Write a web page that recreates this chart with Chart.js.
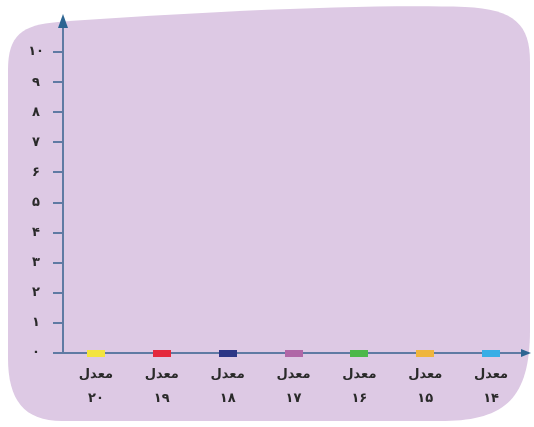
<!DOCTYPE html>
<html>
<head>
<meta charset="utf-8">
<script src="https://cdn.jsdelivr.net/npm/chart.js@4"></script>
<style>
  html, body { margin: 0; padding: 0; background: #ffffff; }
  #wrap { width: 534px; height: 427px; }
</style>
</head>
<body>
<div id="wrap"><canvas id="myChart"></canvas></div>
<script>
// categories (Persian labels), marker values and tick labels
const categories = [
  ["معدل", "۲۰"],
  ["معدل", "۱۹"],
  ["معدل", "۱۸"],
  ["معدل", "۱۷"],
  ["معدل", "۱۶"],
  ["معدل", "۱۵"],
  ["معدل", "۱۴"],
];
const markerValues = [0, 0, 0, 0, 0, 0, 0];
const markerColors = ["#f3e43e", "#e4293d", "#2c3686", "#b067a7", "#4db84a", "#efb53d", "#37aee6"];
const yTicks = ["۰", "۱", "۲", "۳", "۴", "۵", "۶", "۷", "۸", "۹", "۱۰"];

const axisColor = "#5f7aa3";

// small colour bars sitting on the x axis
function markerImage(color) {
  const c = document.createElement("canvas");
  c.width = 18;
  c.height = 7;
  const g = c.getContext("2d");
  g.fillStyle = color;
  g.fillRect(0, 0, 18, 7);
  return c;
}

// lavender blob behind the chart, plus the two axis arrows
const backdrop = {
  id: "backdrop",
  beforeDraw(chart) {
    const ctx = chart.ctx;
    ctx.save();
    ctx.fillStyle = "#ffffff";
    ctx.fillRect(0, 0, chart.width, chart.height);
    ctx.beginPath();
    ctx.moveTo(8, 70);
    ctx.bezierCurveTo(8, 35, 22, 25, 58, 22);
    ctx.bezierCurveTo(200, 12, 360, 4, 465, 7);
    ctx.bezierCurveTo(515, 9, 530, 25, 530, 62);
    ctx.lineTo(530, 330);
    ctx.bezierCurveTo(530, 398, 505, 420, 445, 421);
    ctx.lineTo(62, 421);
    ctx.bezierCurveTo(24, 421, 8, 400, 8, 358);
    ctx.closePath();
    ctx.fillStyle = "#ddc9e4";
    ctx.fill();
    ctx.restore();
  },
  afterDraw(chart) {
    const ctx = chart.ctx;
    const a = chart.chartArea;
    ctx.save();
    ctx.fillStyle = "#2d6592";
    // up arrow
    ctx.beginPath();
    ctx.moveTo(a.left, a.top - 8);
    ctx.lineTo(a.left - 5, a.top + 6);
    ctx.lineTo(a.left + 5, a.top + 6);
    ctx.closePath();
    ctx.fill();
    // right arrow
    ctx.beginPath();
    ctx.moveTo(a.right + 7, a.bottom);
    ctx.lineTo(a.right - 3, a.bottom - 4);
    ctx.lineTo(a.right - 3, a.bottom + 4);
    ctx.closePath();
    ctx.fill();
    ctx.restore();
  },
};

new Chart(document.getElementById("myChart"), {
  type: "line",
  data: {
    labels: categories,
    datasets: [
      {
        data: markerValues,
        showLine: false,
        pointStyle: markerColors.map(markerImage),
        pointRadius: 9,
        pointHoverRadius: 9,
        clip: false,
      },
    ],
  },
  options: {
    responsive: true,
    maintainAspectRatio: false,
    animation: false,
    layout: { padding: { top: 22, right: 8, bottom: 10, left: 0 } },
    plugins: { legend: { display: false }, tooltip: { enabled: false } },
    scales: {
      x: {
        offset: true,
        grid: { display: false, drawTicks: false },
        border: { color: axisColor, width: 2 },
        ticks: {
          color: "#2a2a2a",
          padding: 9,
          maxRotation: 0,
          autoSkip: false,
          font: { family: "DejaVu Sans", size: 13, weight: "bold", lineHeight: 1.9 },
        },
        afterFit(scale) {
          scale.height = 64;
        },
      },
      y: {
        min: 0,
        max: 11,
        afterBuildTicks(scale) {
          scale.ticks = scale.ticks.filter((t) => t.value <= 10);
        },
        grid: { drawOnChartArea: false, tickLength: 10, color: axisColor, lineWidth: 2 },
        border: { color: axisColor, width: 2 },
        ticks: {
          stepSize: 1,
          color: "#2a2a2a",
          padding: 9,
          crossAlign: "center",
          font: { family: "DejaVu Sans", size: 13, weight: "bold" },
          callback: (v) => yTicks[v],
        },
        afterFit(scale) {
          scale.width = 63;
        },
      },
    },
  },
  plugins: [backdrop],
});
</script>
</body>
</html>
